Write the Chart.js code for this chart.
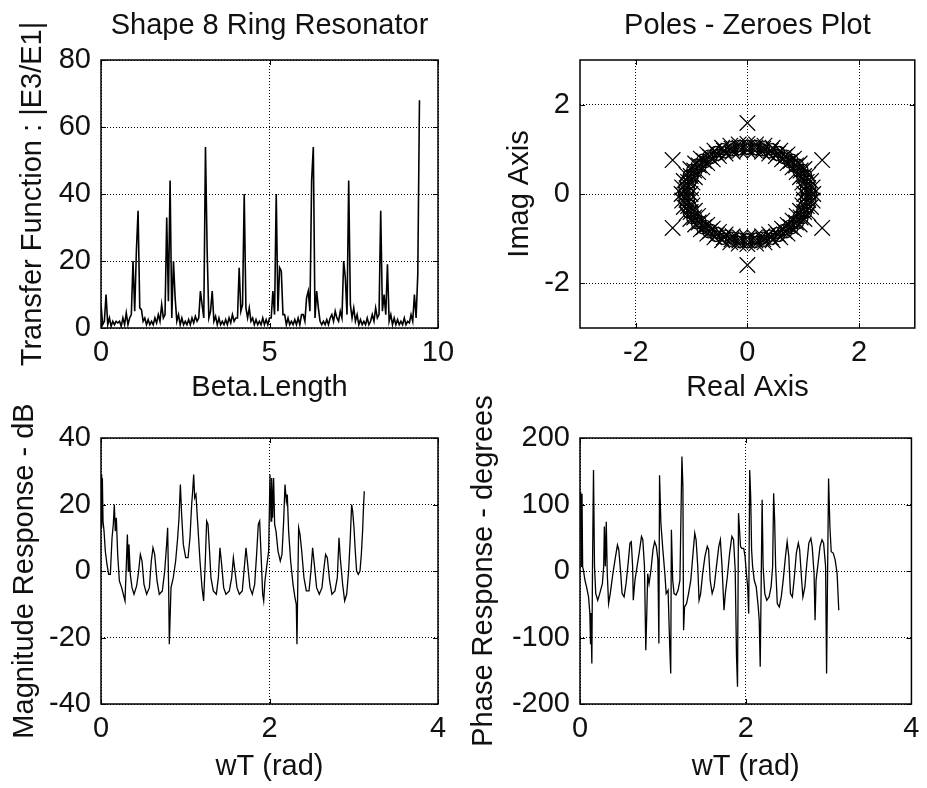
<!DOCTYPE html>
<html>
<head>
<meta charset="utf-8">
<title>Shape 8 Ring Resonator</title>
<script src="https://cdn.jsdelivr.net/npm/chart.js@4.4.0/dist/chart.umd.min.js"></script>
<style>
  html, body { margin: 0; padding: 0; background: #fff; }
  #wrap { position: relative; width: 927px; height: 788px; }
  #wrap canvas { position: absolute; left: 0; top: 0; }
</style>
</head>
<body>
<div id="wrap">
  <canvas id="transfer" width="927" height="788"></canvas>
  <canvas id="polezero" width="927" height="788"></canvas>
  <canvas id="magnitude" width="927" height="788"></canvas>
  <canvas id="phase" width="927" height="788"></canvas>
</div>
<script>
// ---- data ----

// |E3/E1| sampled every 0.05 of Beta.Length, starting at 0
const betaStep = 0.05;
const transferMag = [
  7, 1, 2, 10, 1, 3, 0.5, 2, 1, 2, 1.5, 2, 0.5, 3, 1, 4.5, 1, 3, 4, 20, 5,
  23, 35, 6, 5.5, 2, 3, 1, 2.5, 1, 2, 1, 3, 1.5, 4, 2, 7, 3, 4, 33, 8,
  44, 3, 20, 9, 2, 4, 1, 3, 1, 2, 1, 2.5, 1, 3, 1.5, 3.5, 2, 3, 11, 7,
  3, 54, 23, 3, 5, 11, 2, 3.5, 1, 3, 1, 2, 1, 2.5, 1, 3, 1.5, 4, 2, 3,
  3, 18, 5, 7, 40, 6, 3, 6, 2, 3, 1, 2.5, 1, 2, 1, 3, 1, 2.5, 1, 3,
  3, 11, 4, 40, 5, 18, 17, 4, 4, 1, 3, 1, 2, 1, 2.5, 1, 3, 1, 4, 4,
  2, 9, 11, 5, 44, 54, 3, 11, 6, 2,
  1, 2, 1, 2.5, 1, 3, 4, 2, 5, 3,
  2, 5, 3, 20, 15, 4, 44, 7, 3, 6, 2, 4, 1, 2.5, 1, 2, 1, 3, 1, 2,
  4, 2, 6, 3, 4, 35, 5, 10, 4, 19, 2, 4, 1, 3, 1, 2.5, 1, 2, 1, 3,
  1, 2, 1.5, 4, 2, 10, 3, 16, 68
];

// pole / zero locations (real, imag)
const ringPoles = [
  [1.02, 0], [0.985, 0.254], [0.883, 0.49], [0.721, 0.693], [0.51, 0.849], [0.264, 0.947],
  [0, 0.98], [-0.264, 0.947], [-0.51, 0.849], [-0.721, 0.693], [-0.883, 0.49], [-0.985, 0.254],
  [-1.02, 0], [-0.985, -0.254], [-0.883, -0.49], [-0.721, -0.693], [-0.51, -0.849], [-0.264, -0.947],
  [0, -0.98], [0.264, -0.947], [0.51, -0.849], [0.721, -0.693], [0.883, -0.49], [0.985, -0.254],
  [1.011, 0.128], [0.942, 0.375], [0.809, 0.597], [0.621, 0.777], [0.391, 0.906], [0.134, 0.971],
  [-1.011, 0.128], [-0.942, 0.375], [-0.809, 0.597], [-0.621, 0.777], [-0.391, 0.906], [-0.134, 0.971],
  [-1.011, -0.128], [-0.942, -0.375], [-0.809, -0.597], [-0.621, -0.777], [-0.391, -0.906], [-0.134, -0.971],
  [1.011, -0.128], [0.942, -0.375], [0.809, -0.597], [0.621, -0.777], [0.391, -0.906], [0.134, -0.971],
  [1.09, 0.138], [1.016, 0.402], [0.872, 0.639], [0.67, 0.833], [0.421, 0.97], [0.144, 1.041],
  [-1.09, 0.138], [-1.016, 0.402], [-0.872, 0.639], [-0.67, 0.833], [-0.421, 0.97], [-0.144, 1.041],
  [-1.09, -0.138], [-1.016, -0.402], [-0.872, -0.639], [-0.67, -0.833], [-0.421, -0.97], [-0.144, -1.041],
  [1.09, -0.138], [1.016, -0.402], [0.872, -0.639], [0.67, -0.833], [0.421, -0.97], [0.144, -1.041],
  [1.1, 0], [1.063, 0.272], [0.953, 0.525], [0.778, 0.742], [0.55, 0.909], [0.285, 1.014],
  [0, 1.05], [-0.285, 1.014], [-0.55, 0.909], [-0.778, 0.742], [-0.953, 0.525], [-1.063, 0.272],
  [-1.1, 0], [-1.063, -0.272], [-0.953, -0.525], [-0.778, -0.742], [-0.55, -0.909], [-0.285, -1.014],
  [0, -1.05], [0.285, -1.014], [0.55, -0.909], [0.778, -0.742], [0.953, -0.525], [1.063, -0.272],
  [1.18, 0], [1.14, 0.29], [1.022, 0.56], [0.834, 0.792], [0.59, 0.97], [0.306, 1.082],
  [0, 1.12], [-0.306, 1.082], [-0.59, 0.97], [-0.834, 0.792], [-1.022, 0.56], [-1.14, 0.29],
  [-1.18, 0], [-1.14, -0.29], [-1.022, -0.56], [-0.834, -0.792], [-0.59, -0.97], [-0.306, -1.082],
  [0, -1.12], [0.306, -1.082], [0.59, -0.97], [0.834, -0.792], [1.022, -0.56], [1.14, -0.29],
  [1.169, 0.147], [1.09, 0.429], [0.936, 0.682], [0.719, 0.888], [0.452, 1.035], [0.155, 1.11],
  [-1.169, 0.147], [-1.09, 0.429], [-0.936, 0.682], [-0.719, 0.888], [-0.452, 1.035], [-0.155, 1.11],
  [-1.169, -0.147], [-1.09, -0.429], [-0.936, -0.682], [-0.719, -0.888], [-0.452, -1.035], [-0.155, -1.11],
  [1.169, -0.147], [1.09, -0.429], [0.936, -0.682], [0.719, -0.888], [0.452, -1.035], [0.155, -1.11]
];
const outerPoles = [
  [1.34, 0.76], [-1.34, 0.76], [-1.34, -0.76], [1.34, -0.76], [0, 1.59], [0, -1.59]
];
const ringZeros = [
  [1.05, 0.132], [0.979, 0.387], [0.841, 0.615], [0.646, 0.801], [0.406, 0.933], [0.139, 1.001],
  [-1.05, 0.132], [-0.979, 0.387], [-0.841, 0.615], [-0.646, 0.801], [-0.406, 0.933], [-0.139, 1.001],
  [-1.05, -0.132], [-0.979, -0.387], [-0.841, -0.615], [-0.646, -0.801], [-0.406, -0.933], [-0.139, -1.001],
  [1.05, -0.132], [0.979, -0.387], [0.841, -0.615], [0.646, -0.801], [0.406, -0.933], [0.139, -1.001],
  [1.06, 0], [1.024, 0.262], [0.918, 0.505], [0.749, 0.714], [0.53, 0.875], [0.275, 0.976],
  [0, 1.01], [-0.275, 0.976], [-0.53, 0.875], [-0.749, 0.714], [-0.918, 0.505], [-1.024, 0.262],
  [-1.06, 0], [-1.024, -0.262], [-0.918, -0.505], [-0.749, -0.714], [-0.53, -0.875], [-0.275, -0.976],
  [0, -1.01], [0.275, -0.976], [0.53, -0.875], [0.749, -0.714], [0.918, -0.505], [1.024, -0.262],
  [1.14, 0], [1.101, 0.281], [0.987, 0.543], [0.806, 0.767], [0.57, 0.94], [0.295, 1.048],
  [0, 1.085], [-0.295, 1.048], [-0.57, 0.94], [-0.806, 0.767], [-0.987, 0.543], [-1.101, 0.281],
  [-1.14, 0], [-1.101, -0.281], [-0.987, -0.543], [-0.806, -0.767], [-0.57, -0.94], [-0.295, -1.048],
  [0, -1.085], [0.295, -1.048], [0.57, -0.94], [0.806, -0.767], [0.987, -0.543], [1.101, -0.281],
  [1.13, 0.142], [1.053, 0.416], [0.904, 0.661], [0.694, 0.86], [0.437, 1.003], [0.149, 1.075],
  [-1.13, 0.142], [-1.053, 0.416], [-0.904, 0.661], [-0.694, 0.86], [-0.437, 1.003], [-0.149, 1.075],
  [-1.13, -0.142], [-1.053, -0.416], [-0.904, -0.661], [-0.694, -0.86], [-0.437, -1.003], [-0.149, -1.075],
  [1.13, -0.142], [1.053, -0.416], [0.904, -0.661], [0.694, -0.86], [0.437, -1.003], [0.149, -1.075]
];
const pzTicks = [-2, 0, 2];

// magnitude response (wT rad, dB)
const magWT = [
  0, 0.008, 0.016, 0.024, 0.036, 0.051, 0.071, 0.091, 0.111, 0.131, 0.146, 0.158, 0.170, 0.182, 0.198,
  0.218, 0.245, 0.265, 0.285, 0.301, 0.313, 0.324, 0.332, 0.348, 0.368, 0.392, 0.423, 0.447, 0.467, 0.487,
  0.510, 0.542, 0.574, 0.597, 0.617, 0.637, 0.665, 0.692, 0.728, 0.756, 0.779, 0.791, 0.803, 0.811, 0.819,
  0.831, 0.858, 0.886, 0.910, 0.926, 0.942, 0.957, 0.977, 1.005, 1.033, 1.056, 1.076, 1.088, 1.100, 1.112,
  1.127, 1.151, 1.175, 1.199, 1.218, 1.238, 1.254, 1.270, 1.286, 1.305, 1.333, 1.369, 1.393, 1.412, 1.432,
  1.456, 1.483, 1.523, 1.551, 1.571, 1.590, 1.614, 1.642, 1.677, 1.701, 1.721, 1.741, 1.768, 1.796, 1.824,
  1.847, 1.867, 1.883, 1.903, 1.919, 1.931, 1.946, 1.970, 1.990, 2.006, 2.018, 2.026, 2.037, 2.049, 2.061,
  2.077, 2.101, 2.128, 2.148, 2.168, 2.184, 2.200, 2.211, 2.227, 2.251, 2.279, 2.302, 2.318, 2.326, 2.334,
  2.346, 2.362, 2.382, 2.409, 2.437, 2.469, 2.492, 2.512, 2.532, 2.559, 2.591, 2.623, 2.647, 2.666, 2.686,
  2.714, 2.741, 2.777, 2.805, 2.825, 2.840, 2.868, 2.892, 2.916, 2.939, 2.959, 2.975, 2.987, 3.003, 3.018,
  3.034, 3.054, 3.074, 3.090, 3.105, 3.117, 3.125
];
const magDb = [
  29, 13, 28, 15, 12, 6, 2, -1, -1, 10, 14, 20, 12, 16, 5,
  -3, -5, -7, -9, 2, 11, 0, 8, -1, -5, -7, -4.5, 0, 5, 3,
  -4, -7, -5, 3, 7, 5, -3, -7, -6, 0, 8, 13, -5, -22, -15,
  -5, -2, 3, 10, 16, 26, 17, 8, 4, 4, 10, 20, 24, 29, 22,
  23, 13, 3, -5, -9, 3, 15, 14, 7, -2, -6, -7, -2, 7, 2,
  -5, -7, -6, -2, 4, 0, -5, -7, -6, 1, 7, 2, -5, -7, -4,
  5, 14, 15, 3, -7, -9, -3, 2, 6, 29, 15, 28, 16, 28, 14,
  12, 6, 3, 5, 15, 26, 21, 23, 12, 3, -4, -8, -10, -22, -7,
  13, 11, 6, -2, -6, -6, 0, 7, 2, -5, -7, -5, 1, 5, 4,
  -3, -7, -6, -2, 10, 4, -4, -9, -7, 0, 10, 20, 18, 13, 6,
  0, -1, 0, 5, 12, 20, 24
];

// phase response (wT rad, degrees)
const phaseWT = [
  0.008, 0.016, 0.024, 0.032, 0.040, 0.060, 0.079, 0.103, 0.119, 0.127, 0.131, 0.143, 0.151, 0.163, 0.175,
  0.190, 0.214, 0.238, 0.270, 0.286, 0.294, 0.306, 0.317, 0.329, 0.345, 0.365, 0.397, 0.429, 0.452, 0.468,
  0.488, 0.508, 0.532, 0.556, 0.583, 0.603, 0.619, 0.635, 0.643, 0.663, 0.683, 0.714, 0.742, 0.758, 0.778,
  0.794, 0.806, 0.817, 0.833, 0.857, 0.881, 0.901, 0.921, 0.940, 0.952, 0.960, 0.976, 0.988, 1.000, 1.024,
  1.040, 1.063, 1.083, 1.095, 1.103, 1.119, 1.135, 1.159, 1.183, 1.206, 1.230, 1.242, 1.250, 1.262, 1.286,
  1.310, 1.337, 1.361, 1.385, 1.401, 1.421, 1.437, 1.456, 1.480, 1.508, 1.536, 1.552, 1.571, 1.595, 1.619,
  1.647, 1.675, 1.694, 1.714, 1.738, 1.754, 1.778, 1.806, 1.833, 1.853, 1.873, 1.889, 1.901, 1.913, 1.925,
  1.937, 1.952, 1.976, 1.992, 2.008, 2.024, 2.036, 2.048, 2.060, 2.071, 2.083, 2.103, 2.127, 2.151, 2.163,
  2.175, 2.187, 2.198, 2.210, 2.230, 2.254, 2.282, 2.306, 2.325, 2.337, 2.349, 2.361, 2.381, 2.405, 2.429,
  2.452, 2.480, 2.500, 2.520, 2.540, 2.563, 2.587, 2.611, 2.635, 2.651, 2.675, 2.690, 2.714, 2.738, 2.762,
  2.786, 2.802, 2.825, 2.837, 2.849, 2.869, 2.897, 2.921, 2.940, 2.964, 2.976, 2.988, 3.000, 3.016, 3.032,
  3.056, 3.079, 3.103, 3.123
];
const phaseDeg = [
  119, 7, 116, 6, 2, -14, -24, -39, -64, -109, -63, -139, 7, 152, 7,
  -34, -44, -34, -19, 7, 67, 7, 74, -4, -49, -34, -4, 22, 39, 32,
  2, -34, -39, -19, 14, 42, 44, 7, -44, -14, 2, 27, 52, 47, 7,
  -119, -64, -4, -19, 2, 32, 44, 37, 17, -109, 144, 72, 52, 32, -4,
  -34, -29, -114, -154, 62, -14, -34, -36, -29, -14, 172, 127, -89, -54, -49,
  -34, -14, 22, 57, 47, 7, -44, -34, -4, 22, 37, 32, -14, -34, -24,
  7, 37, 47, 7, -59, -34, -9, 27, 52, 47, 2, -129, -174, 87, 62,
  37, 34, 34, 22, -4, -24, -64, 152, 112, 32, 7, -14, -24, -54, -74,
  -144, -14, 107, 7, -34, -44, -39, -24, 7, 117, 77, 7, -49, -54, -39,
  -14, 22, 44, 22, -34, -39, -9, 27, 42, 32, -14, -39, -24, 12, 42,
  49, 37, -4, -74, -14, 7, 37, 47, 42, 7, -154, -4, 139, 67, 29,
  27, 17, -4, -59
];

// ---- look ----
Chart.defaults.font.family = "'Liberation Sans', Arial, Helvetica, sans-serif";
Chart.defaults.font.size = 29;
Chart.defaults.color = '#111';

// solid axes box plus short inward ticks, MATLAB style
const boxPlugin = {
  id: 'matlabBox',
  afterDatasetsDraw(chart) {
    const { ctx, chartArea: a, scales } = chart;
    const len = 5;
    ctx.save();
    ctx.strokeStyle = '#000';
    ctx.lineWidth = 1;
    ctx.beginPath();
    scales.x.ticks.forEach(t => {
      const px = Math.round(scales.x.getPixelForValue(t.value)) + 0.5;
      ctx.moveTo(px, a.bottom); ctx.lineTo(px, a.bottom - len);
      ctx.moveTo(px, a.top); ctx.lineTo(px, a.top + len);
    });
    scales.y.ticks.forEach(t => {
      const py = Math.round(scales.y.getPixelForValue(t.value)) + 0.5;
      ctx.moveTo(a.left, py); ctx.lineTo(a.left + len, py);
      ctx.moveTo(a.right, py); ctx.lineTo(a.right - len, py);
    });
    ctx.stroke();
    ctx.lineWidth = 1.5;
    ctx.strokeRect(a.left, a.top, a.right - a.left, a.bottom - a.top);
    ctx.restore();
  }
};

const gridOpts = { color: '#000', lineWidth: 1, drawTicks: false };
const dotted = { display: false, dash: [1, 2] };

function bottomAxis(min, max, step, label, padBottom, fixedTicks) {
  const ax = {
    type: 'linear', position: 'bottom', min: min, max: max,
    grid: gridOpts, border: dotted,
    ticks: { stepSize: step, padding: 7.5, maxRotation: 0, autoSkip: false },
    title: { display: true, text: label, padding: { top: 0, bottom: padBottom } },
    afterFit: s => { s.height = 80; }
  };
  if (fixedTicks) ax.afterBuildTicks = s => { s.ticks = fixedTicks.map(v => ({ value: v })); };
  return ax;
}

function leftAxis(min, max, step, label, width, padTop, fixedTicks) {
  const ax = {
    type: 'linear', position: 'left', min: min, max: max,
    grid: gridOpts, border: dotted,
    ticks: { stepSize: step, padding: 10, autoSkip: false },
    title: { display: true, text: label, padding: { top: padTop, bottom: 0 } },
    afterFit: s => { s.width = width; }
  };
  if (fixedTicks) ax.afterBuildTicks = s => { s.ticks = fixedTicks.map(v => ({ value: v })); };
  return ax;
}

function titleAxis(text) {
  return {
    type: 'linear', position: 'top',
    grid: { display: false }, border: { display: false }, ticks: { display: false },
    title: { display: true, text: text, padding: { top: 8.6, bottom: 0 } },
    afterFit: s => { s.height = 60; }
  };
}

function baseOptions(padding, scales) {
  return {
    responsive: false,
    animation: false,
    events: [],
    layout: { padding: padding },
    plugins: { legend: { display: false }, tooltip: { enabled: false } },
    scales: scales
  };
}

function lineSet(points, width) {
  return {
    data: points, showLine: true, borderColor: '#000', borderWidth: width,
    pointRadius: 0, tension: 0, fill: false
  };
}

// top left: transfer function
new Chart(document.getElementById('transfer'), {
  type: 'scatter',
  data: { datasets: [lineSet(transferMag.map((v, i) => ({ x: i * betaStep, y: v })), 1.6)] },
  options: baseOptions({ left: 0, top: 0, right: 489, bottom: 380 }, {
    x: bottomAxis(0, 10, 5, 'Beta.Length', 2.6),
    xt: titleAxis('Shape 8 Ring Resonator'),
    y: leftAxis(0, 80, 20, 'Transfer Function : |E3/E1|', 101, 15.6)
  }),
  plugins: [boxPlugin]
});

// top right: poles and zeros
const toXY = p => ({ x: p[0], y: p[1] });
new Chart(document.getElementById('polezero'), {
  type: 'scatter',
  data: {
    datasets: [
      { data: ringZeros.map(toXY), pointStyle: 'circle', pointRadius: 5.5, borderColor: '#000',
        backgroundColor: 'rgba(0,0,0,0)', borderWidth: 1.3 },
      { data: ringPoles.concat(outerPoles).map(toXY), pointStyle: 'crossRot', pointRadius: 11,
        borderColor: '#000', borderWidth: 1.2 }
    ]
  },
  options: baseOptions({ left: 463, top: 0, right: 11, bottom: 380 }, {
    x: bottomAxis(-3, 3, 2, 'Real Axis', 2.6, pzTicks),
    xt: titleAxis('Poles - Zeroes Plot'),
    y: leftAxis(-3, 3, 2, 'Imag Axis', 117, 39.6, pzTicks)
  }),
  plugins: [boxPlugin]
});

// bottom left: magnitude response
new Chart(document.getElementById('magnitude'), {
  type: 'scatter',
  data: { datasets: [lineSet(magWT.map((w, i) => ({ x: w, y: magDb[i] })), 1.3)] },
  options: baseOptions({ left: 0, top: 438, right: 489, bottom: 4 }, {
    x: bottomAxis(0, 4, 2, 'wT (rad)', 0.1),
    y: leftAxis(-40, 40, 20, 'Magnitude Response - dB', 101, 7.6)
  }),
  plugins: [boxPlugin]
});

// bottom right: phase response
new Chart(document.getElementById('phase'), {
  type: 'scatter',
  data: { datasets: [lineSet(phaseWT.map((w, i) => ({ x: w, y: phaseDeg[i] })), 1.3)] },
  options: baseOptions({ left: 463, top: 438, right: 11, bottom: 4 }, {
    x: bottomAxis(0, 4, 2, 'wT (rad)', 0.1),
    y: leftAxis(-200, 200, 100, 'Phase Response - degrees', 117, 3.6)
  }),
  plugins: [boxPlugin]
});
</script>
</body>
</html>
